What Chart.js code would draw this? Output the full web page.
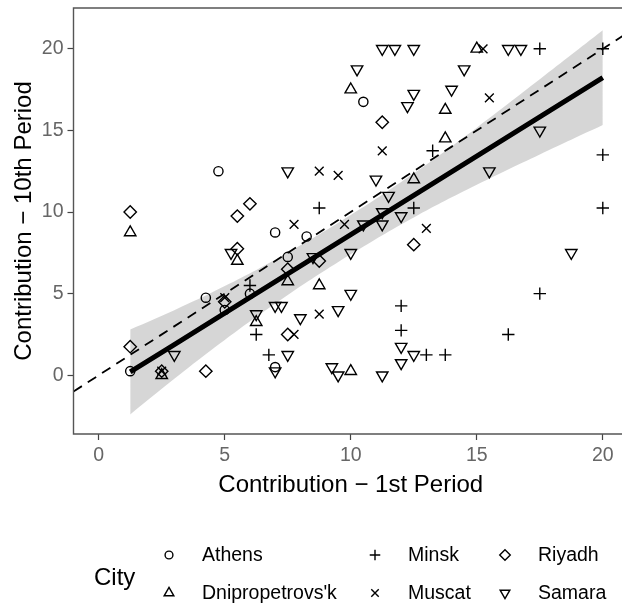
<!DOCTYPE html>
<html>
<head>
<meta charset="utf-8">
<script src="https://cdn.jsdelivr.net/npm/chart.js@4.4.1/dist/chart.umd.min.js"></script>
<style>
  body { margin: 0; background: #fff; }
  .frame { width: 622px; height: 606px; overflow: hidden; position: relative; }
  canvas { display: block; }
</style>
</head>
<body>
<div class="frame">
  <canvas id="chart" width="636" height="606"></canvas>
</div>
<script>
// values
const athensX = [1.25, 4.25, 4.75, 5, 6, 7, 7, 7.5, 8.25, 10.5];
const athensY = [0.25, 4.75, 12.5, 4.0, 5.0, 8.75, 0.5, 7.25, 8.5, 16.75];

const dniproX = [1.25, 2.5, 5.5, 6.25, 7.5, 8.75, 10, 10, 12.5, 13.75, 13.75, 15];
const dniproY = [8.75, 0, 7.0, 3.25, 5.75, 5.5, 0.25, 17.5, 12, 14.5, 16.25, 20];

const minskX = [6, 6.25, 6.75, 8.75, 12, 12, 12.5, 13, 13.75, 13.25, 16.25, 17.5, 17.5, 20, 20, 20];
const minskY = [5.5, 2.5, 1.25, 10.25, 4.25, 2.75, 10.25, 1.25, 1.25, 13.75, 2.5, 5, 20, 20, 13.5, 10.25];

const muscatX = [2.5, 5, 7.75, 7.75, 8.75, 8.75, 9.5, 9.75, 11.25, 13, 15.25, 15.5];
const muscatY = [0.25, 4.75, 9.25, 2.5, 12.5, 3.75, 12.25, 9.25, 13.75, 9, 20, 17];

const riyadhX = [1.25, 1.25, 2.5, 4.25, 5, 5.5, 6, 5.5, 7.5, 7.5, 8.75, 11.25, 12.5];
const riyadhY = [10, 1.75, 0.25, 0.25, 4.5, 9.75, 10.5, 7.75, 6.5, 2.5, 7, 15.5, 8];

const samaraX = [3, 5.25, 6.25, 7, 7.25, 7, 7.5, 7.5, 8, 8.5, 9.25, 9.5, 9.5, 10, 10, 10.25, 10.5, 11,
  11.25, 11.25, 11.25, 11.25, 11.5, 11.75, 12, 12, 12, 12.25, 12.5, 12.5, 12.5, 14, 14.5, 15.5,
  16.25, 16.75, 17.5, 18.75];
const samaraY = [1.25, 7.5, 3.75, 4.25, 4.25, 0.25, 12.5, 1.25, 3.5, 7.25, 0.5, 0, 4, 7.5, 5, 18.75, 9.25, 12,
  20, 10, 9.25, 0, 11, 20, 9.75, 1.75, 0.75, 16.5, 17.25, 20, 1.25, 17.5, 18.75, 12.5,
  20, 20, 15, 7.5];

// fitted line and its confidence band, read at a few x positions
const fitX = [1.25, 3, 5, 7.5, 10, 12.5, 15, 17.5, 20];
const fitY = [0.2, 1.88, 3.81, 6.21, 8.61, 11.02, 13.42, 15.83, 18.23];
const bandLow = [-2.4, -0.22, 2.16, 4.91, 7.41, 9.67, 11.67, 13.53, 15.33];
const bandHigh = [2.8, 3.98, 5.46, 7.51, 9.81, 12.37, 15.17, 18.13, 21.13];

// identity reference line
const refX = [-1, 21];
const refY = [-1, 21];

const xTicks = [0, 5, 10, 15, 20];
const yTicks = [0, 5, 10, 15, 20];

const FONT = "'Liberation Sans', Arial, sans-serif";

const pairs = (xs, ys) => xs.map((x, i) => ({ x: x, y: ys[i] }));

const cities = [
  { name: "Athens", xs: athensX, ys: athensY, style: "circle", radius: 4.6, rotation: 0 },
  { name: "Dnipropetrovs'k", xs: dniproX, ys: dniproY, style: "triangle", radius: 6.6, rotation: 0 },
  { name: "Minsk", xs: minskX, ys: minskY, style: "cross", radius: 6.2, rotation: 0 },
  { name: "Muscat", xs: muscatX, ys: muscatY, style: "crossRot", radius: 6.2, rotation: 0 },
  { name: "Riyadh", xs: riyadhX, ys: riyadhY, style: "rectRot", radius: 6.2, rotation: 0 },
  { name: "Samara", xs: samaraX, ys: samaraY, style: "triangle", radius: 6.6, rotation: 180 }
];

const pointSets = cities.map(c => ({
  type: "scatter",
  label: c.name,
  data: pairs(c.xs, c.ys),
  pointStyle: c.style,
  pointRadius: c.radius,
  pointRotation: c.rotation,
  pointBorderColor: "#000",
  pointBackgroundColor: "rgba(0,0,0,0)",
  pointBorderWidth: 1.4,
  showLine: false,
  order: 2
}));

const lineSets = [
  {
    type: "line", label: "low", data: pairs(fitX, bandLow),
    borderWidth: 0, pointRadius: 0, fill: false, tension: 0.4, order: 5
  },
  {
    type: "line", label: "high", data: pairs(fitX, bandHigh),
    borderWidth: 0, pointRadius: 0, fill: "-1", tension: 0.4,
    backgroundColor: "rgba(153,153,153,0.4)", order: 4
  },
  {
    type: "line", label: "fit", data: pairs(fitX, fitY),
    borderColor: "#000", borderWidth: 5, pointRadius: 0, fill: false, order: 1
  },
  {
    type: "line", label: "ref", data: pairs(refX, refY),
    borderColor: "#000", borderWidth: 1.8, borderDash: [10, 7], pointRadius: 0, fill: false, order: 0
  }
];

const decorPlugin = {
  id: "decor",
  afterDraw(chart) {
    const ctx = chart.ctx;
    const a = chart.chartArea;
    ctx.save();
    // panel border (right side falls outside the picture)
    ctx.strokeStyle = "#555";
    ctx.lineWidth = 1.4;
    ctx.beginPath();
    ctx.moveTo(a.right, a.top);
    ctx.lineTo(a.left, a.top);
    ctx.lineTo(a.left, a.bottom);
    ctx.lineTo(a.right, a.bottom);
    ctx.stroke();

    // axis titles, centred on the panel
    const midX = (a.left + a.right) / 2;
    const midY = (a.top + a.bottom) / 2;
    ctx.fillStyle = "#000";
    ctx.font = "24px " + FONT;
    ctx.textAlign = "center";
    ctx.textBaseline = "alphabetic";
    ctx.fillText("Contribution \u2212 1st Period", midX, 492);
    ctx.save();
    ctx.translate(31, midY);
    ctx.rotate(-Math.PI / 2);
    ctx.fillText("Contribution \u2212 10th Period", 0, 0);
    ctx.restore();

    // legend
    ctx.textAlign = "left";
    ctx.font = "24px " + FONT;
    ctx.fillText("City", 94, 585);
    ctx.font = "19.5px " + FONT;
    const colX = [169, 375, 505];
    const textX = [202, 408, 538];
    const rowY = [555, 593];
    cities.forEach((c, i) => {
      const col = Math.floor(i / 2), row = i % 2;
      ctx.strokeStyle = "#000";
      ctx.fillStyle = "rgba(0,0,0,0)";
      ctx.lineWidth = 1.4;
      Chart.helpers.drawPoint(ctx, {
        pointStyle: c.style,
        radius: c.radius * 0.85,
        rotation: c.rotation,
        borderWidth: 1.4
      }, colX[col], rowY[row]);
      ctx.fillStyle = "#000";
      ctx.textBaseline = "middle";
      ctx.fillText(c.name, textX[col], rowY[row] + 1);
    });
    ctx.restore();
  }
};

new Chart(document.getElementById("chart"), {
  type: "scatter",
  data: { datasets: pointSets.concat(lineSets) },
  options: {
    responsive: false,
    animation: false,
    devicePixelRatio: 1,
    layout: { padding: { left: 0, top: 6, right: 2, bottom: 0 } },
    plugins: { legend: { display: false }, tooltip: { enabled: false } },
    scales: {
      x: {
        type: "linear", min: -1, max: 21,
        afterBuildTicks: s => { s.ticks = xTicks.map(v => ({ value: v })); },
        afterFit: s => { s.height = 172; s.paddingLeft = 0; s.paddingRight = 0; },
        grid: { drawOnChartArea: false, tickLength: 6, tickColor: "#444", tickWidth: 1.2 },
        border: { display: false },
        ticks: { color: "#666", font: { family: FONT, size: 19.5 }, padding: 4, maxRotation: 0 }
      },
      y: {
        type: "linear", min: -3.6, max: 22.5,
        afterBuildTicks: s => { s.ticks = yTicks.map(v => ({ value: v })); },
        afterFit: s => { s.width = 73.5; s.paddingTop = 0; s.paddingBottom = 0; },
        grid: { drawOnChartArea: false, tickLength: 6, tickColor: "#444", tickWidth: 1.2 },
        border: { display: false },
        ticks: { color: "#666", font: { family: FONT, size: 19.5 }, padding: 4 }
      }
    }
  },
  plugins: [decorPlugin]
});
</script>
</body>
</html>
